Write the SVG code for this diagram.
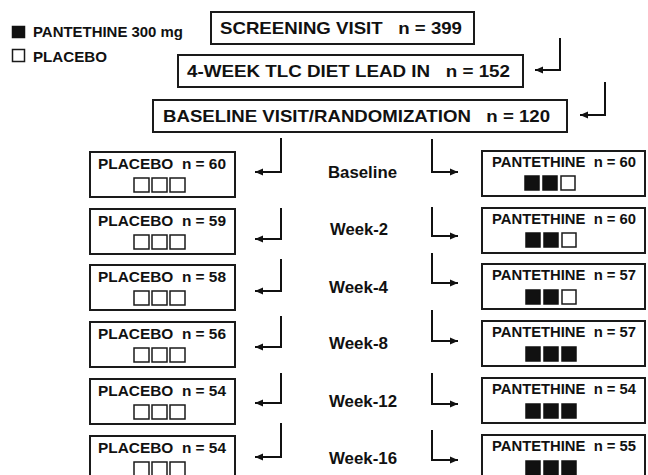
<svg xmlns="http://www.w3.org/2000/svg" width="648" height="475" viewBox="0 0 648 475">
<style>
text{font-family:"Liberation Sans",Arial,sans-serif;font-weight:bold;fill:#111}
.box{fill:#fff;stroke:#1a1a1a;stroke-width:2}
.hd{font-size:16.5px}
.bx{font-size:14.5px}
.lb{font-size:16.5px}
.lg{font-size:15px}
.sqf{fill:#111;stroke:#111;stroke-width:1.5}
.sqo{fill:#fff;stroke:#1a1a1a;stroke-width:1.5}
.con{fill:none;stroke:#111;stroke-width:2}
</style>
<defs>
<marker id="ah" markerUnits="userSpaceOnUse" markerWidth="10" markerHeight="10" viewBox="0 0 10 10" refX="9" refY="5" orient="auto">
<path d="M1,1.5 L9,5 L1,8.5 Z" fill="#111"/>
</marker>
</defs>
<rect width="648" height="475" fill="#fff"/>

<g id="legend">
<rect class="sqf" x="12.5" y="26.5" width="12" height="11"/>
<text class="lg" x="33" y="37" textLength="150" lengthAdjust="spacingAndGlyphs">PANTETHINE 300 mg</text>
<rect class="sqo" x="12.5" y="49.5" width="12" height="12"/>
<text class="lg" x="33" y="61.5" textLength="74" lengthAdjust="spacingAndGlyphs">PLACEBO</text>
</g>

<g id="screening">
<rect class="box" x="211" y="12" width="263" height="32"/>
<text class="hd" x="220" y="33.5" textLength="242" lengthAdjust="spacingAndGlyphs" xml:space="preserve">SCREENING VISIT   n = 399</text>
</g>
<g id="leadin">
<rect class="box" x="178" y="55" width="345" height="32"/>
<text class="hd" x="187" y="77" textLength="323" lengthAdjust="spacingAndGlyphs" xml:space="preserve">4-WEEK TLC DIET LEAD IN   n = 152</text>
</g>
<g id="randomization">
<rect class="box" x="153" y="100" width="414" height="32"/>
<text class="hd" x="163" y="122" textLength="387" lengthAdjust="spacingAndGlyphs" xml:space="preserve">BASELINE VISIT/RANDOMIZATION   n = 120</text>
</g>

<g id="connectors">
<path class="con" d="M560,38 V70 H535" marker-end="url(#ah)"/>
<path class="con" d="M605,82 V115 H580" marker-end="url(#ah)"/>
<path class="con" d="M281,138 V172 H255" marker-end="url(#ah)"/>
<path class="con" d="M281,208 V239 H255" marker-end="url(#ah)"/>
<path class="con" d="M281,259 V291 H255" marker-end="url(#ah)"/>
<path class="con" d="M281,316 V347 H255" marker-end="url(#ah)"/>
<path class="con" d="M281,373 V403 H255" marker-end="url(#ah)"/>
<path class="con" d="M281,423 V457 H255" marker-end="url(#ah)"/>
<path class="con" d="M432,139 V172 H458" marker-end="url(#ah)"/>
<path class="con" d="M432,207 V236 H458" marker-end="url(#ah)"/>
<path class="con" d="M432,253 V283 H458" marker-end="url(#ah)"/>
<path class="con" d="M432,310 V341 H458" marker-end="url(#ah)"/>
<path class="con" d="M432,373 V404 H458" marker-end="url(#ah)"/>
<path class="con" d="M432,430 V460 H458" marker-end="url(#ah)"/>
</g>

<g id="labels">
<text class="lb" x="328" y="178" textLength="69" lengthAdjust="spacingAndGlyphs">Baseline</text>
<text class="lb" x="330" y="235" textLength="58" lengthAdjust="spacingAndGlyphs">Week-2</text>
<text class="lb" x="329" y="293" textLength="59" lengthAdjust="spacingAndGlyphs">Week-4</text>
<text class="lb" x="329" y="349" textLength="59" lengthAdjust="spacingAndGlyphs">Week-8</text>
<text class="lb" x="329" y="407" textLength="68" lengthAdjust="spacingAndGlyphs">Week-12</text>
<text class="lb" x="329" y="464" textLength="68" lengthAdjust="spacingAndGlyphs">Week-16</text>
</g>

<g id="placebo-baseline">
<rect class="box" x="90" y="152" width="145" height="45"/>
<text class="bx" x="98" y="169" textLength="128" lengthAdjust="spacingAndGlyphs" xml:space="preserve">PLACEBO  n = 60</text>
<rect class="sqo" x="134" y="178" width="15" height="14"/><rect class="sqo" x="152" y="178" width="15" height="14"/><rect class="sqo" x="170" y="178" width="15" height="14"/>
</g>
<g id="placebo-week2">
<rect class="box" x="90" y="209" width="145" height="45"/>
<text class="bx" x="98" y="226" textLength="128" lengthAdjust="spacingAndGlyphs" xml:space="preserve">PLACEBO  n = 59</text>
<rect class="sqo" x="134" y="235" width="15" height="14"/><rect class="sqo" x="152" y="235" width="15" height="14"/><rect class="sqo" x="170" y="235" width="15" height="14"/>
</g>
<g id="placebo-week4">
<rect class="box" x="90" y="265" width="145" height="45"/>
<text class="bx" x="98" y="282" textLength="128" lengthAdjust="spacingAndGlyphs" xml:space="preserve">PLACEBO  n = 58</text>
<rect class="sqo" x="134" y="291" width="15" height="14"/><rect class="sqo" x="152" y="291" width="15" height="14"/><rect class="sqo" x="170" y="291" width="15" height="14"/>
</g>
<g id="placebo-week8">
<rect class="box" x="90" y="322" width="145" height="45"/>
<text class="bx" x="98" y="339" textLength="128" lengthAdjust="spacingAndGlyphs" xml:space="preserve">PLACEBO  n = 56</text>
<rect class="sqo" x="134" y="348" width="15" height="14"/><rect class="sqo" x="152" y="348" width="15" height="14"/><rect class="sqo" x="170" y="348" width="15" height="14"/>
</g>
<g id="placebo-week12">
<rect class="box" x="90" y="379" width="145" height="45"/>
<text class="bx" x="98" y="396" textLength="128" lengthAdjust="spacingAndGlyphs" xml:space="preserve">PLACEBO  n = 54</text>
<rect class="sqo" x="134" y="405" width="15" height="14"/><rect class="sqo" x="152" y="405" width="15" height="14"/><rect class="sqo" x="170" y="405" width="15" height="14"/>
</g>
<g id="placebo-week16">
<rect class="box" x="90" y="436" width="145" height="45"/>
<text class="bx" x="98" y="453" textLength="128" lengthAdjust="spacingAndGlyphs" xml:space="preserve">PLACEBO  n = 54</text>
<rect class="sqo" x="134" y="462" width="15" height="14"/><rect class="sqo" x="152" y="462" width="15" height="14"/><rect class="sqo" x="170" y="462" width="15" height="14"/>
</g>

<g id="pantethine-baseline">
<rect class="box" x="482" y="151" width="163" height="45"/>
<text class="bx" x="492" y="167" textLength="144" lengthAdjust="spacingAndGlyphs" xml:space="preserve">PANTETHINE  n = 60</text>
<rect class="sqf" x="525" y="176" width="14" height="14"/><rect class="sqf" x="543" y="176" width="14" height="14"/><rect class="sqo" x="561" y="176" width="14" height="14"/>
</g>
<g id="pantethine-week2">
<rect class="box" x="482" y="208" width="163" height="45"/>
<text class="bx" x="492" y="224" textLength="144" lengthAdjust="spacingAndGlyphs" xml:space="preserve">PANTETHINE  n = 60</text>
<rect class="sqf" x="526" y="233" width="14" height="14"/><rect class="sqf" x="544" y="233" width="14" height="14"/><rect class="sqo" x="562" y="233" width="14" height="14"/>
</g>
<g id="pantethine-week4">
<rect class="box" x="482" y="264" width="163" height="45"/>
<text class="bx" x="492" y="280" textLength="144" lengthAdjust="spacingAndGlyphs" xml:space="preserve">PANTETHINE  n = 57</text>
<rect class="sqf" x="526" y="290" width="14" height="14"/><rect class="sqf" x="544" y="290" width="14" height="14"/><rect class="sqo" x="562" y="290" width="14" height="14"/>
</g>
<g id="pantethine-week8">
<rect class="box" x="482" y="321" width="163" height="45"/>
<text class="bx" x="492" y="337" textLength="144" lengthAdjust="spacingAndGlyphs" xml:space="preserve">PANTETHINE  n = 57</text>
<rect class="sqf" x="526" y="347" width="14" height="14"/><rect class="sqf" x="544" y="347" width="14" height="14"/><rect class="sqf" x="562" y="347" width="14" height="14"/>
</g>
<g id="pantethine-week12">
<rect class="box" x="482" y="378" width="163" height="45"/>
<text class="bx" x="492" y="394" textLength="144" lengthAdjust="spacingAndGlyphs" xml:space="preserve">PANTETHINE  n = 54</text>
<rect class="sqf" x="526" y="404" width="14" height="14"/><rect class="sqf" x="544" y="404" width="14" height="14"/><rect class="sqf" x="562" y="404" width="14" height="14"/>
</g>
<g id="pantethine-week16">
<rect class="box" x="482" y="435" width="163" height="45"/>
<text class="bx" x="492" y="451" textLength="144" lengthAdjust="spacingAndGlyphs" xml:space="preserve">PANTETHINE  n = 55</text>
<rect class="sqf" x="526" y="461" width="14" height="14"/><rect class="sqf" x="544" y="461" width="14" height="14"/><rect class="sqf" x="562" y="461" width="14" height="14"/>
</g>
</svg>
